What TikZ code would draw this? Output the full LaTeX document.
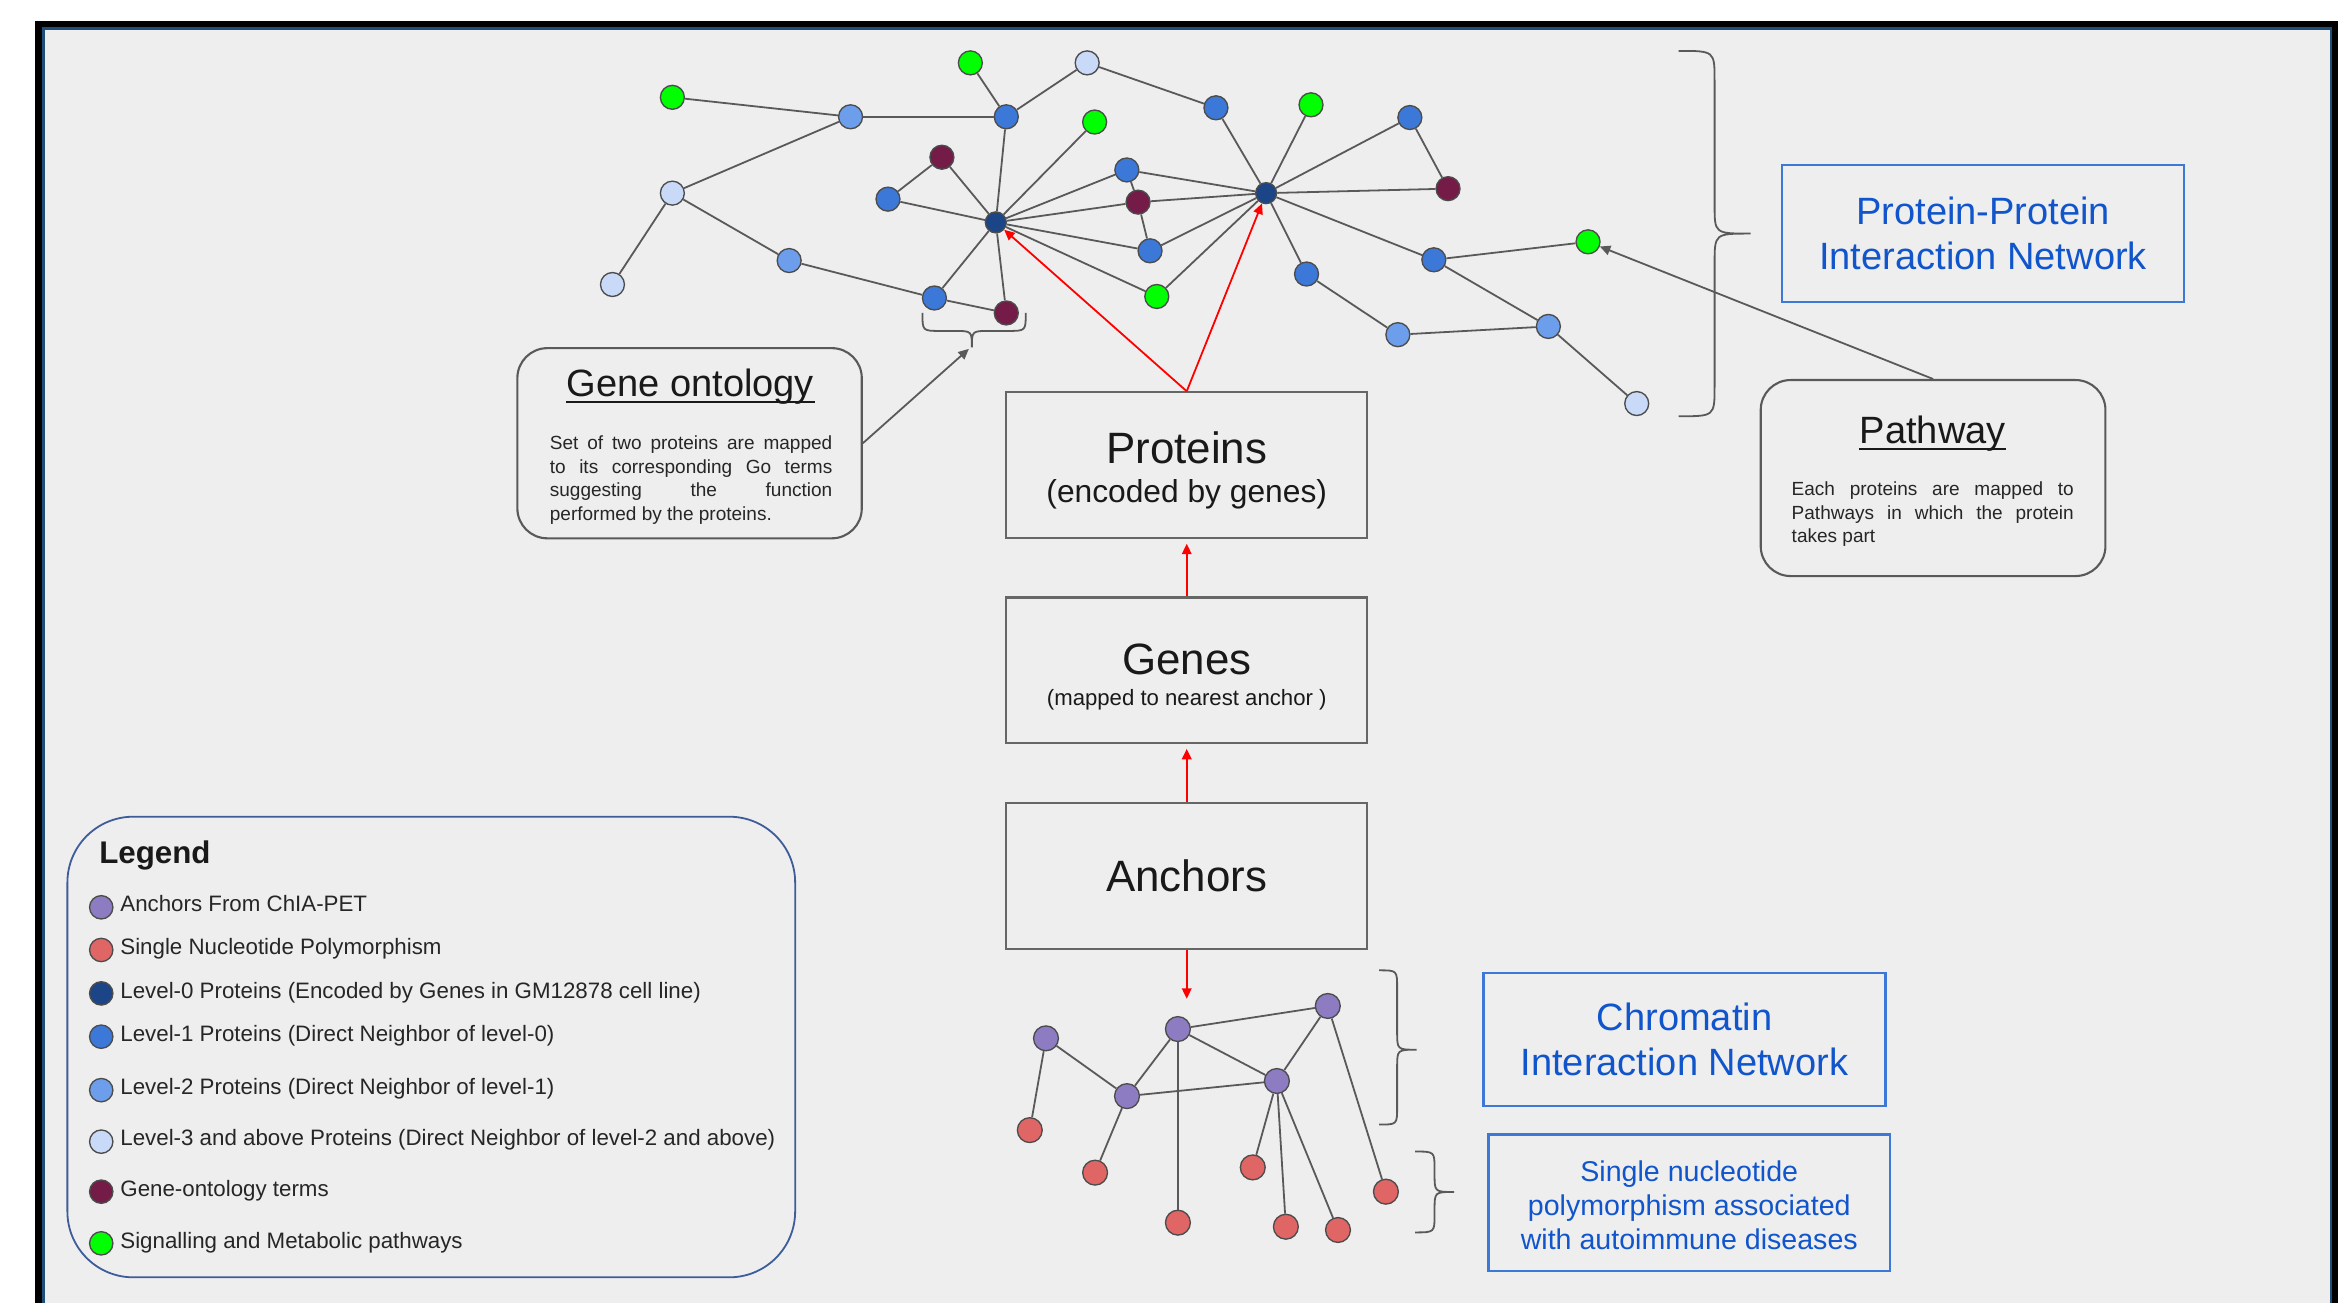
\documentclass[tikz,border=0pt]{standalone}
\usepackage{fontspec}
\setmainfont{Liberation Sans}
\usetikzlibrary{arrows.meta}
\definecolor{bgray}{HTML}{EEEEEE}
\definecolor{lzero}{HTML}{1C4587}
\definecolor{lone}{HTML}{3C78D8}
\definecolor{ltwo}{HTML}{6D9EEB}
\definecolor{lthree}{HTML}{C9DAF8}
\definecolor{goterm}{HTML}{741B47}
\definecolor{pathg}{HTML}{00FF00}
\definecolor{anch}{HTML}{8E7CC3}
\definecolor{snp}{HTML}{E06666}
\definecolor{edgegray}{HTML}{595959}
\definecolor{bluetxt}{HTML}{1155CC}
\definecolor{blueline}{HTML}{3C78D8}
\definecolor{legline}{HTML}{3D5C99}
\definecolor{frameblue}{HTML}{1F4E79}
\begin{document}
\begin{tikzpicture}[x=0.5pt,y=-0.5pt,
 ndbase/.style={circle,draw=black!70,line width=0.45pt,minimum size=8pt,inner sep=0pt},
 lvzero/.style={ndbase,fill=lzero,minimum size=7pt},
 lvone/.style={ndbase,fill=lone},
 lvtwo/.style={ndbase,fill=ltwo},
 lvthree/.style={ndbase,fill=lthree},
 gonode/.style={ndbase,fill=goterm},
 pwnode/.style={ndbase,fill=pathg},
 annode/.style={ndbase,fill=anch,minimum size=8.3pt},
 snnode/.style={ndbase,fill=snp,minimum size=8.3pt},
 edgeline/.style={draw=edgegray,line width=0.6pt},
 redarr/.style={draw=red,line width=0.6pt,-{Triangle[length=3.5pt,width=3.2pt]}},
 grayarr/.style={draw=edgegray,line width=0.6pt,-{Triangle[length=3.5pt,width=3.2pt]}},
 bracestyle/.style={draw=edgegray,line width=0.6pt},
 procbox/.style={draw=black!60,line width=0.7pt,minimum width=120.5pt,minimum height=48.7pt,align=center,inner sep=0pt,text=black!90},
 bluebox/.style={draw=blueline,line width=0.8pt,text=bluetxt,align=center,inner sep=0pt},
 notebox/.style={draw=black!65,line width=0.7pt,rounded corners=10pt,inner sep=0pt},
 legtxt/.style={anchor=base west,inner sep=0pt,text=black!85,font=\fontsize{7.45}{9}\selectfont},
 legdot/.style={ndbase,minimum size=7.8pt},
]
\useasboundingbox (0,0) rectangle (1568,870);
\clip (0,0) rectangle (1568,870);
\fill[white] (0,0) rectangle (1568,870);
\fill[black] (23.4,13.8) rectangle (1561.6,880);
\fill[frameblue] (27.8,17.8) rectangle (1557.1,880);
\fill[bgray] (30,20) rectangle (1556,880);

% ---------- PPI network nodes
\node[pwnode] (gA) at (449,65) {};
\node[lvtwo] (lbA) at (568,78) {};
\node[lvone] (bA) at (672,78) {};
\node[pwnode] (gB) at (648,42) {};
\node[lvthree] (l3A) at (726,42) {};
\node[lvthree] (l3B) at (449,129) {};
\node[lvthree] (l3C) at (409,190) {};
\node[lvtwo] (lbB) at (527,174) {};
\node[lvone] (bB) at (624,199) {};
\node[gonode] (goA) at (672,209) {};
\node[gonode] (goB) at (629,105) {};
\node[lvone] (bC) at (593,133) {};
\node[lvzero] (zA) at (665,148.5) {};
\node[pwnode] (gC) at (731,81.5) {};
\node[lvone] (bD) at (752.5,113.5) {};
\node[gonode] (goC) at (760,135) {};
\node[lvone] (bE) at (768,167.5) {};
\node[pwnode] (gD) at (772.5,198) {};
\node[lvone] (bF) at (812,72) {};
\node[pwnode] (gE) at (875.5,70) {};
\node[lvzero] (zB) at (845.5,129) {};
\node[lvone] (bG) at (941.5,78.5) {};
\node[gonode] (goD) at (967,126) {};
\node[lvone] (bH) at (872.5,183) {};
\node[lvone] (bI) at (957.5,173.5) {};
\node[pwnode] (gF) at (1060.5,161.5) {};
\node[lvtwo] (lbC) at (933.5,223.5) {};
\node[lvtwo] (lbD) at (1034,218) {};
\node[lvthree] (l3D) at (1093,269.5) {};

\foreach \a/\b in {gA/lbA,lbA/bA,lbA/l3B,l3B/l3C,l3B/lbB,lbB/bB,bB/goA,bB/zA,goA/zA,gB/bA,bA/l3A,bA/zA,l3A/bF,bF/zB,goB/bC,goB/zA,bC/zA,zA/gC,zA/bD,zA/goC,zA/bE,zA/gD,bD/zB,bD/goC,goC/zB,goC/bE,bE/zB,gD/zB,zB/gE,zB/bG,zB/goD,bG/goD,zB/bH,zB/bI,bH/lbC,lbC/lbD,bI/gF,bI/lbD,lbD/l3D}
  \draw[edgeline] (\a) -- (\b);

% ---------- central boxes
\node[procbox,font=\fontsize{10.6}{13pt}\selectfont] (prot) at (792.5,310.7) {\rule{0pt}{13.8pt}{\fontsize{14.65}{13pt}\selectfont Proteins}\\(encoded by genes)};
\node[procbox,font=\fontsize{7.4}{10.5pt}\selectfont] (gen) at (792.5,447.7) {\rule{0pt}{14.45pt}{\fontsize{14.65}{10.5pt}\selectfont Genes}\\(mapped to nearest anchor )};
\node[procbox,font=\fontsize{14.65}{16pt}\selectfont] (anc) at (792.5,584.85) {Anchors};

\draw[redarr,shorten >=1.5pt] (gen.north) -- (prot.south);
\draw[redarr,shorten >=1.5pt] (anc.north) -- (gen.south);
\coordinate (ancend) at (792.5,667);
\draw[redarr] (anc.south) -- (ancend);
\draw[redarr] (prot.north) -- (zA);
\draw[redarr] (prot.north) -- (zB);

% ---------- blue label boxes
\node[bluebox,font=\fontsize{12.7}{15pt}\selectfont,minimum width=134.3pt,minimum height=45.65pt] (ppi) at (1324.3,155.9) {Protein-Protein\\Interaction Network};
\node[bluebox,font=\fontsize{12.7}{15pt}\selectfont,minimum width=134.1pt,minimum height=44.5pt] (chrom) at (1124.9,694.1) {Chromatin\\Interaction Network};
\node[bluebox,font=\fontsize{9.55}{11.25pt}\selectfont,minimum width=134.1pt,minimum height=45.65pt] (snpbox) at (1128.1,803.2) {\rule{0pt}{8.5pt}Single nucleotide\\polymorphism associated\\with autoimmune diseases};

% ---------- Gene ontology note
\node[notebox,minimum width=115pt,minimum height=63.5pt] (gobox) at (460.5,296) {};
\node[anchor=base,inner sep=0pt,font=\fontsize{12.7}{15}\selectfont,text=black!90] (gotitle) at (461,265) {Gene ontology};
\draw[line width=0.65pt,black!90] ([yshift=-1.6pt]gotitle.base west) -- ([yshift=-1.6pt]gotitle.base east);
\node[anchor=base west,inner sep=0pt,text=black!85] (gobody) at (366.8,300.5) {\parbox[t]{94.3pt}{\fontsize{6.35}{7.85pt}\selectfont
\makebox[94.3pt][s]{Set of two proteins are mapped}\\
\makebox[94.3pt][s]{to its corresponding Go terms}\\
\makebox[94.3pt][s]{suggesting the function}\\
performed by the proteins.}};

% ---------- Pathway note
\node[notebox,minimum width=115.1pt,minimum height=65.45pt] (pwbox) at (1290.9,319.25) {};
\node[anchor=base,inner sep=0pt,font=\fontsize{12.7}{15}\selectfont,text=black!90] (pwtitle) at (1290.7,296.5) {Pathway};
\draw[line width=0.65pt,black!90] ([yshift=-1.6pt]pwtitle.base west) -- ([yshift=-1.6pt]pwtitle.base east);
\node[anchor=base west,inner sep=0pt,text=black!85] (pwbody) at (1196.1,330.8) {\parbox[t]{94.2pt}{\fontsize{6.35}{7.95pt}\selectfont
\makebox[94.2pt][s]{Each proteins are mapped to}\\
\makebox[94.2pt][s]{Pathways in which the protein}\\
takes part}};

% ---------- braces
\draw[bracestyle] (1121,34) .. controls (1145,34) .. (1145,54) -- (1145,137) .. controls (1145,156) .. (1169,156) .. controls (1145,156) .. (1145,176) -- (1145,258) .. controls (1145,278) .. (1121,278);
\draw[bracestyle] (616,209) .. controls (616,221) .. (628,221) -- (637,221) .. controls (649,221) .. (649,232) .. controls (649,221) .. (661,221) -- (673,221) .. controls (685,221) .. (685,209);
\draw[bracestyle] (921,648) .. controls (933,648) .. (933,660) -- (933,689) .. controls (933,701) .. (946,701) .. controls (933,701) .. (933,713) -- (933,739) .. controls (933,751) .. (921,751);
\draw[bracestyle] (945,769) .. controls (958,769) .. (958,781) -- (958,784) .. controls (958,796) .. (971,796) .. controls (958,796) .. (958,808) -- (958,811) .. controls (958,823) .. (945,823);

\coordinate (gotip) at (647,233);
\draw[grayarr] (gobox.east) -- (gotip);
\draw[grayarr] (pwbox.north) -- (gF);

% ---------- chromatin network
\node[annode] (pA) at (698.5,693.4) {};
\node[annode] (pB) at (786.6,687.2) {};
\node[annode] (pC) at (886.7,671.8) {};
\node[annode] (pD) at (752.6,732) {};
\node[annode] (pE) at (852.7,721.9) {};
\node[snnode] (rA) at (687.7,754.7) {};
\node[snnode] (rB) at (731.3,783.1) {};
\node[snnode] (rC) at (786.6,816.5) {};
\node[snnode] (rD) at (836.6,779.6) {};
\node[snnode] (rE) at (858.7,819.2) {};
\node[snnode] (rF) at (893.5,821.4) {};
\node[snnode] (rG) at (925.5,795.8) {};
\foreach \a/\b in {pA/rA,pA/pD,pD/pB,pD/rB,pD/pE,pB/pC,pB/pE,pB/rC,pE/pC,pE/rD,pE/rE,pE/rF,pC/rG}
  \draw[edgeline] (\a) -- (\b);

% ---------- legend
\node[draw=legline,line width=0.6pt,rounded corners=22pt,minimum width=243pt,minimum height=153.8pt,inner sep=0pt] (legbox) at (288,699.2) {};
\node[anchor=base west,inner sep=0pt,font=\fontsize{10.45}{12}\selectfont\bfseries,text=black!90] (legt) at (65.9,576.6) {Legend};
\node[legdot,fill=anch] (ld1) at (67.6,605.9) {};
\node[legtxt] (lt1) at (80,608.9) {Anchors From ChIA-PET};
\node[legdot,fill=snp] (ld2) at (67.6,634.4) {};
\node[legtxt] (lt2) at (80,637.6) {Single Nucleotide Polymorphism};
\node[legdot,fill=lzero] (ld3) at (67.6,663.4) {};
\node[legtxt] (lt3) at (80,666.6) {Level-0 Proteins (Encoded by Genes in GM12878 cell line)};
\node[legdot,fill=lone] (ld4) at (67.6,692.3) {};
\node[legtxt] (lt4) at (80,695.5) {Level-1 Proteins (Direct Neighbor of level-0)};
\node[legdot,fill=ltwo] (ld5) at (67.6,728) {};
\node[legtxt] (lt5) at (80,730.8) {Level-2 Proteins (Direct Neighbor of level-1)};
\node[legdot,fill=lthree] (ld6) at (67.6,762.4) {};
\node[legtxt] (lt6) at (80,765.2) {Level-3 and above Proteins (Direct Neighbor of level-2 and above)};
\node[legdot,fill=goterm] (ld7) at (67.6,795.8) {};
\node[legtxt] (lt7) at (80,799.2) {Gene-ontology terms};
\node[legdot,fill=pathg] (ld8) at (67.6,830.3) {};
\node[legtxt] (lt8) at (80,834) {Signalling and Metabolic pathways};
\end{tikzpicture}
\end{document}
